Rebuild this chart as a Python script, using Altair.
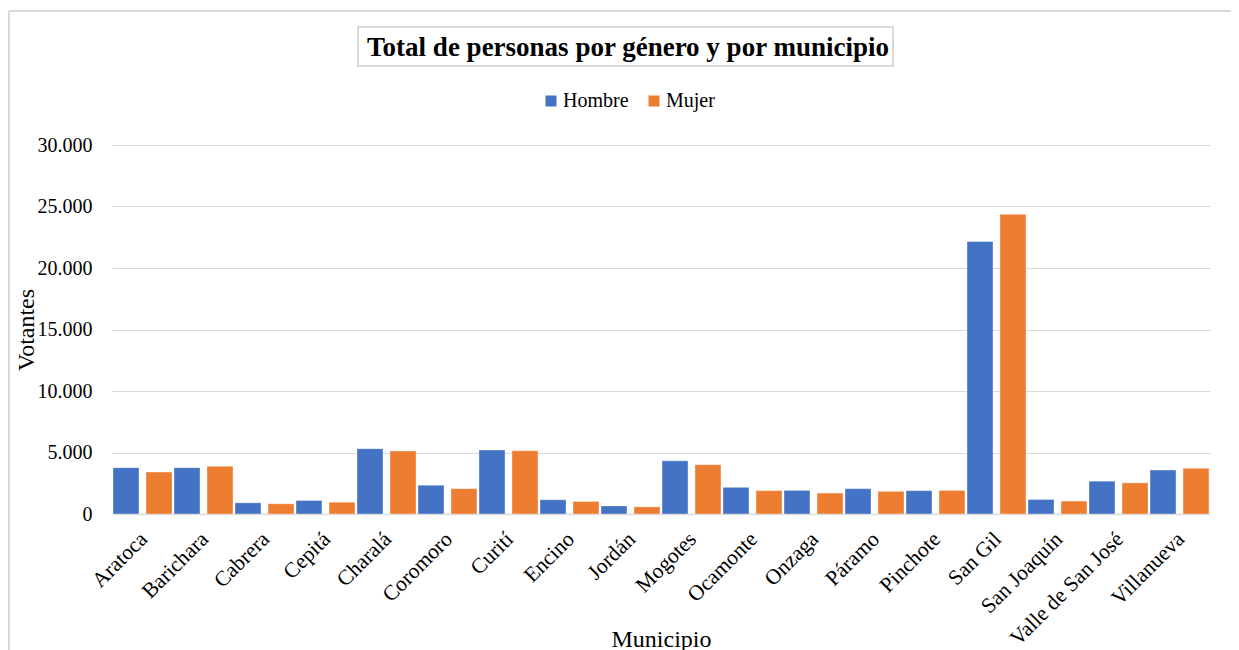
import altair as alt
import pandas as pd

municipios = ["Aratoca", "Barichara", "Cabrera", "Cepitá", "Charalá", "Coromoro",
              "Curití", "Encino", "Jordán", "Mogotes", "Ocamonte", "Onzaga",
              "Páramo", "Pinchote", "San Gil", "San Joaquín", "Valle de San José",
              "Villanueva"]
hombre = [3770, 3770, 910, 1100, 5310, 2340, 5200, 1160, 660, 4320, 2170, 1920,
          2060, 1900, 22150, 1180, 2670, 3570]
mujer = [3410, 3880, 830, 960, 5120, 2060, 5140, 1020, 580, 4010, 1900, 1700,
         1840, 1920, 24360, 1050, 2530, 3710]
generos = ["Hombre", "Mujer"]
colores = ["#4472C4", "#ED7D31"]
y_ticks = [0, 5000, 10000, 15000, 20000, 25000, 30000]

rows = []
for m, h, mu in zip(municipios, hombre, mujer):
    rows.append({"Municipio": m, "Género": "Hombre", "Votantes": h})
    rows.append({"Municipio": m, "Género": "Mujer", "Votantes": mu})
df = pd.DataFrame(rows)

FONT = "Liberation Serif"
W, H = 1098, 369
GRID = "#d9d9d9"

one = pd.DataFrame({"k": [0]})

frame_top = alt.Chart(one).mark_rule(color=GRID, strokeWidth=2).encode(
    x=alt.value(-103), x2=alt.value(W + 40), y=alt.value(-134)
)
frame_left = alt.Chart(one).mark_rule(color=GRID, strokeWidth=2).encode(
    x=alt.value(-103), y=alt.value(-134), y2=alt.value(H + 160)
)

title_box = alt.Chart(one).mark_rect(filled=False, stroke=GRID, strokeWidth=2).encode(
    x=alt.value(246), x2=alt.value(781), y=alt.value(-118), y2=alt.value(-79)
)

bars = alt.Chart(df).mark_bar(stroke="white", strokeWidth=0.6, strokeOpacity=0.6).encode(
    x=alt.X(
        "Municipio:N",
        sort=municipios,
        scale=alt.Scale(paddingInner=0.033, paddingOuter=0.0165),
        axis=alt.Axis(
            title="Municipio",
            labelAngle=-45,
            labelAlign="right",
            labelBaseline="top",
            labelPadding=14,
            labelOffset=-6,
            ticks=False,
            grid=False,
            domainColor=GRID,
            domainWidth=1.5,
            labelFont=FONT,
            labelFontSize=21.5,
            titleFont=FONT,
            titleFontSize=24,
            titleFontWeight="normal",
            titleX=W / 2,
            titleY=125,
            titleBaseline="middle",
            titleAlign="center",
        ),
    ),
    xOffset=alt.XOffset("Género:N", sort=generos,
                        scale=alt.Scale(paddingInner=0.212, paddingOuter=0)),
    y=alt.Y(
        "Votantes:Q",
        scale=alt.Scale(domain=[0, 30000], nice=False),
        axis=alt.Axis(
            title="Votantes",
            values=y_ticks,
            labelExpr="replace(format(datum.value, ','), ',', '.')",
            ticks=False,
            domain=False,
            labelPadding=20,
            labelFont=FONT,
            labelFontSize=20,
            titleFont=FONT,
            titleFontSize=24,
            titleFontWeight="normal",
            titleX=-86,
            titleY=H / 2,
            titleBaseline="middle",
            titleAlign="center",
            gridColor=GRID,
            gridWidth=1.2,
        ),
    ),
    color=alt.Color(
        "Género:N",
        sort=generos,
        scale=alt.Scale(domain=generos, range=colores),
        legend=alt.Legend(
            title=None,
            orient="none",
            legendX=429,
            legendY=-54,
            direction="horizontal",
            symbolType="square",
            symbolSize=121,
            symbolStrokeWidth=0,
            labelFont=FONT,
            labelFontSize=20,
            labelColor="black",
            labelOffset=2,
            columnPadding=15,
            padding=0,
        ),
    ),
)

chart = alt.layer(frame_top, frame_left, title_box, bars).properties(
    width=W,
    height=H,
    autosize=alt.AutoSizeParams(type="none"),
    padding={"left": 104, "top": 137, "right": 21, "bottom": 136},
    title=alt.Title(
        "Total de personas por género y por municipio",
        font=FONT,
        fontSize=27,
        fontWeight="bold",
        color="black",
        anchor="middle",
        dx=-33,
        offset=-65,
        baseline="middle",
    ),
).configure(
    font=FONT,
).configure_view(
    stroke=None
).configure_axis(
    labelFont=FONT, titleFont=FONT, labelColor="black", titleColor="black"
).configure_legend(
    labelFont=FONT, labelColor="black"
)

chart.save("out.html", embed_options={"renderer": "svg", "actions": False})
